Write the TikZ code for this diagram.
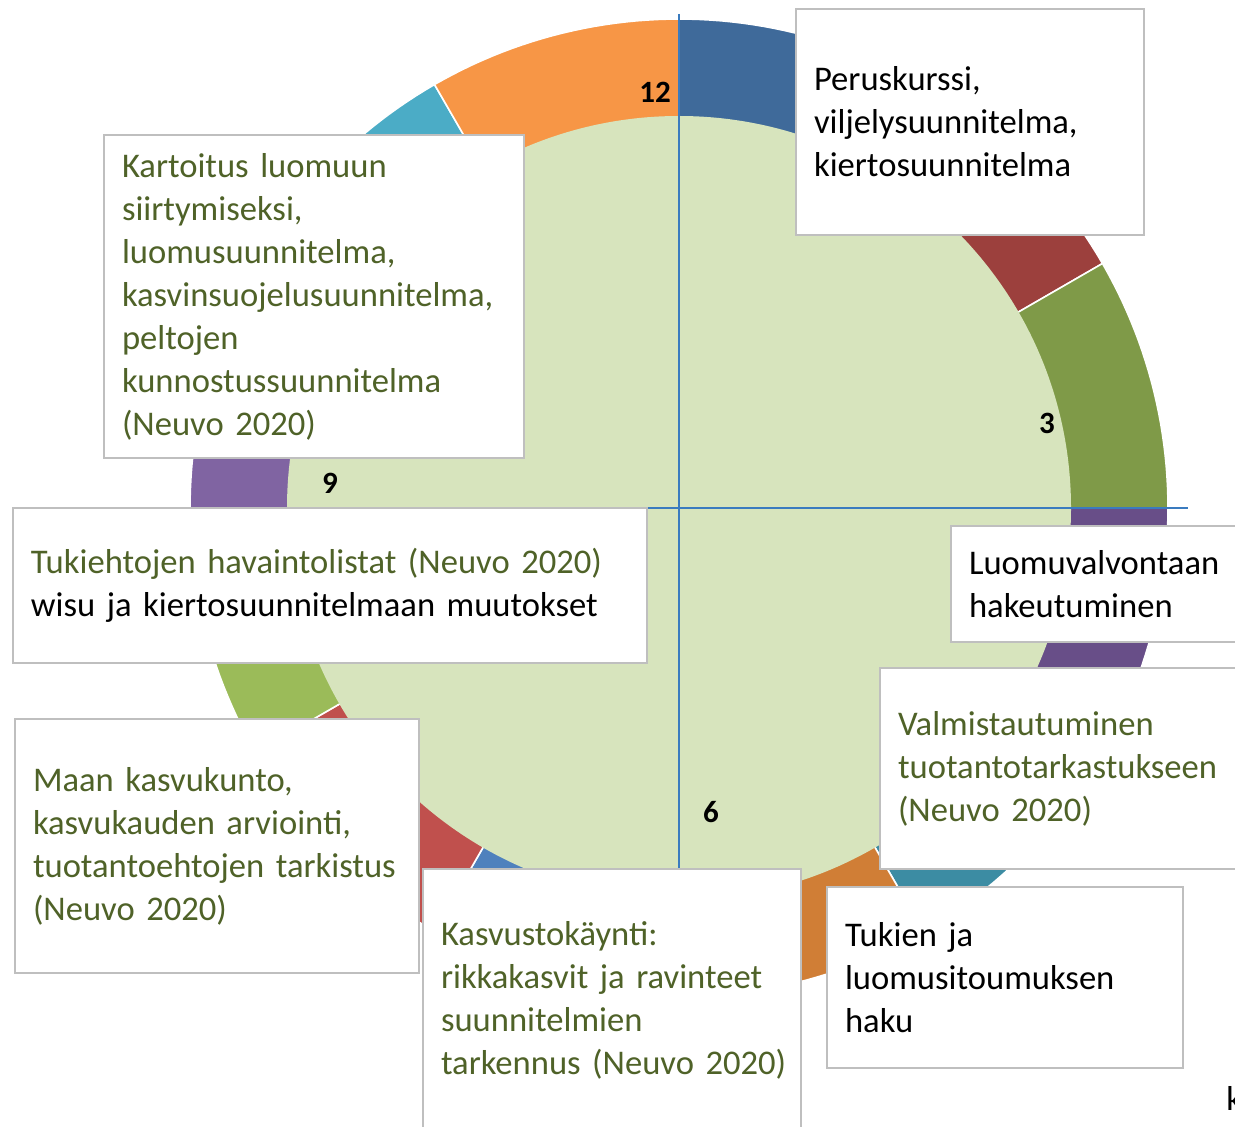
\documentclass[tikz,border=0pt]{standalone}
\usepackage{fontspec}
\setmainfont{Carlito}
\usetikzlibrary{calc}

\definecolor{ringblueD}{HTML}{3F6A9A}
\definecolor{ringredD}{HTML}{9C403D}
\definecolor{ringgreenD}{HTML}{7F9A48}
\definecolor{ringpurpleD}{HTML}{684E88}
\definecolor{ringtealD}{HTML}{3C8CA3}
\definecolor{ringorangeD}{HTML}{D07E36}
\definecolor{ringblue}{HTML}{4F81BD}
\definecolor{ringred}{HTML}{C0504D}
\definecolor{ringgreen}{HTML}{9BBB59}
\definecolor{ringpurple}{HTML}{8064A2}
\definecolor{ringaqua}{HTML}{4BACC6}
\definecolor{ringorange}{HTML}{F79646}
\definecolor{disk}{HTML}{D7E4BD}
\definecolor{txtgreen}{HTML}{4F6228}
\definecolor{boxgray}{HTML}{BFBFBF}
\definecolor{axisblue}{HTML}{3A7BBF}

\begin{document}
\begin{tikzpicture}[x=0.5pt, y=-0.5pt,
        every node/.style={font=\fontsize{17.3}{21.5}\selectfont, inner sep=0pt},
        tbox/.style={draw=boxgray, line width=1pt, fill=white, anchor=north west,
                     inner xsep=9pt, align=left},
        num/.style={font=\fontsize{15.5}{16}\selectfont\bfseries},
        axis/.style={axisblue, line width=0.8pt}]

    \useasboundingbox (0,0) rectangle (1235,1127);

    % Centre and radii
    \coordinate (O) at (679,508);
    \def\Rout{489}
    \def\Rin{392}

    % Ring of twelve months, clockwise from the top
    \foreach \col [count=\i from 0] in {ringblueD,ringredD,ringgreenD,ringpurpleD,
            ringtealD,ringorangeD,ringblue,ringred,ringgreen,ringpurple,ringaqua,ringorange}{
        \pgfmathsetmacro{\a}{-90+30*\i}
        \pgfmathsetmacro{\b}{\a+30}
        \fill[\col, draw=white, line width=0.8pt] (O) -- plot[domain=\a:\b, samples=25]
            ({679+\Rout*cos(\x)},{508+\Rout*sin(\x)}) -- cycle;
    }

    % Inner disk
    \fill[disk] (O) circle[radius=\Rin];

    % Clock numbers
    \node[num] (n12) at (655,92) {12};
    \node[num] (n3) at (1047,423) {3};
    \node[num] (n6) at (711,812) {6};
    \node[num] (n9) at (330,483) {9};

    % Text boxes
    \node[tbox, minimum width=174pt, minimum height=113pt, text width=156pt] (peru) at (795,8)
        {Peruskurssi,\\viljelysuunnitelma,\\kiertosuunnitelma};
    \node[tbox, text=txtgreen, minimum width=210pt, minimum height=161.5pt, text width=192pt] (kart) at (103,134)
        {Kartoitus luomuun\\siirtymiseksi,\\luomusuunnitelma,\\kasvinsuojelusuunnitelma,\\peltojen\\kunnostussuunnitelma\\(Neuvo 2020)};
    \node[tbox, minimum width=317pt, minimum height=77.5pt, text width=299pt] (tuki) at (12,507)
        {\textcolor{txtgreen}{Tukiehtojen havaintolistat (Neuvo 2020)}\\wisu ja kiertosuunnitelmaan muutokset};
    \node[tbox, minimum width=150pt, minimum height=58pt, text width=132pt] (valv) at (950,525)
        {Luomuvalvontaan\\hakeutuminen};
    \node[tbox, text=txtgreen, minimum width=183pt, minimum height=100.5pt, text width=165pt] (valm) at (879,667)
        {Valmistautuminen\\tuotantotarkastukseen\\(Neuvo 2020)};
    \node[tbox, text=txtgreen, minimum width=202pt, minimum height=127pt, text width=184pt] (maan) at (14,718)
        {Maan kasvukunto,\\kasvukauden arviointi,\\tuotantoehtojen tarkistus\\(Neuvo 2020)};
    \node[tbox, text=txtgreen, minimum width=189pt, minimum height=131pt, text width=171pt] (kasv) at (422,868)
        {Kasvustokäynti:\\rikkakasvit ja ravinteet\\suunnitelmien\\tarkennus~(Neuvo~2020)};
    \node[tbox, minimum width=178pt, minimum height=90.5pt, text width=160pt] (haku) at (826,886)
        {Tukien ja\\luomusitoumuksen\\haku};
    \node[anchor=base west] (k) at (1226,1110) {k};

    % Axes
    \coordinate (top) at (679,14);
    \coordinate (right) at (1188,508);
    \draw[axis] (top) -- (top |- kasv.north);
    \draw[axis] (tuki.east |- O) -- (right);
\end{tikzpicture}
\end{document}
